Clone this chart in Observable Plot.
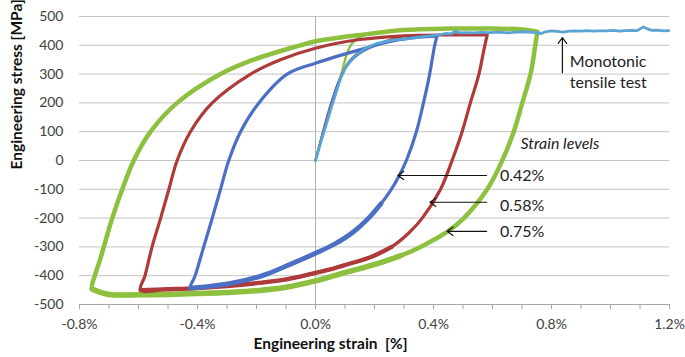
<!DOCTYPE html>
<html><head><meta charset="utf-8">
<script src="https://cdn.jsdelivr.net/npm/d3@7"></script>
<script src="https://cdn.jsdelivr.net/npm/@observablehq/plot@0.6"></script>
<style>body{margin:0;background:#fff;}</style>
</head><body><div id="chart"></div>
<script>
// Axis ticks
const xTicks = [-0.8, -0.4, 0, 0.4, 0.8, 1.2];
const xMinorTicks = [-0.8, -0.7, -0.6, -0.5, -0.4, -0.3, -0.2, -0.1, 0, 0.1, 0.2, 0.3, 0.4, 0.5, 0.6, 0.7, 0.8, 0.9, 1.0, 1.1, 1.2];
const yTicks = [-500, -400, -300, -200, -100, 0, 100, 200, 300, 400, 500];

// 0.42% loop (blue): descending branch, then ascending branch
const blueStrain = [0.412, 0.404, 0.387, 0.366, 0.342, 0.308, 0.285, 0.257, 0.222, 0.18, 0.126, 0.065, 0.0, -0.085, -0.175, -0.288, -0.39, -0.424,
  -0.408, -0.379, -0.350, -0.322, -0.294, -0.254, -0.192, -0.096, 0.0, 0.152, 0.266, 0.35, 0.412];
const blueStress = [432, 400, 300, 200, 100, 0, -50, -100, -150, -200, -250, -290, -322, -360, -398, -427, -440, -443,
  -400, -300, -200, -100, 0, 100, 200, 300, 338, 385, 416, 428, 432];
const blueInitStrain = [0, 0.05, 0.085, 0.13, 0.2, 0.266];
const blueInitStress = [0, 185, 290, 355, 398, 416];

// 0.58% loop (red)
const redStrain = [0.582, 0.57, 0.554, 0.525, 0.497, 0.463, 0.424, 0.362, 0.318, 0.258, 0.2, 0.145, 0.096, 0.05, 0.0, -0.1, -0.2, -0.3, -0.4, -0.5, -0.593,
  -0.578, -0.554, -0.525, -0.497, -0.469, -0.424, -0.350, -0.220, -0.119, 0.0, 0.15, 0.3, 0.45, 0.582];
const redStress = [436, 380, 300, 200, 100, 0, -100, -200, -250, -300, -330, -350, -364, -378, -390, -413, -426, -436, -443, -447, -450,
  -400, -300, -200, -100, 0, 100, 200, 300, 350, 390, 420, 433, 436, 436];
const redInitStrain = [0, 0.05, 0.085, 0.12, 0.16, 0.21, 0.26, 0.3];
const redInitStress = [0, 190, 290, 352, 385, 405, 422, 433];

// 0.75% loop (green)
const greenStrain = [0.752, 0.745, 0.729, 0.701, 0.672, 0.633, 0.582, 0.503, 0.446, 0.356, 0.29, 0.22, 0.14, 0.07, 0.0, -0.1, -0.2, -0.3, -0.4, -0.5, -0.6, -0.7, -0.757,
  -0.748, -0.732, -0.712, -0.689, -0.655, -0.616, -0.559, -0.469, -0.322, -0.21, -0.051, 0.0, 0.152, 0.3, 0.45, 0.6, 0.7, 0.752];
const greenStress = [447, 400, 300, 200, 100, 0, -100, -200, -248, -300, -330, -355, -378, -398, -418, -440, -452, -458, -462, -465, -466, -465, -446,
  -400, -350, -280, -200, -100, 0, 100, 200, 300, 350, 400, 414, 436, 453, 458, 458, 455, 447];
const greenInitStrain = [0, 0.05, 0.085, 0.107, 0.124, 0.152, 0.21];
const greenInitStress = [0, 185, 290, 372, 407, 430, 445];

// Monotonic tensile test (light blue)
const monoStrain = [0, 0.02, 0.051, 0.085, 0.105, 0.13, 0.17, 0.209, 0.26, 0.322, 0.38, 0.42, 0.44, 0.46, 0.475, 0.49, 0.51, 0.536, 0.56, 0.59, 0.62, 0.65, 0.68, 0.71, 0.74, 0.765, 0.78, 0.80, 0.82, 0.84, 0.86, 0.875, 0.90, 0.92, 0.94, 0.96, 0.989, 1.01, 1.03, 1.05, 1.07, 1.09, 1.112, 1.125, 1.14, 1.16, 1.18, 1.197];
const monoStress = [0, 70, 175, 285, 330, 360, 390, 407, 418, 424, 432, 436, 441, 440, 449, 443, 444, 443, 445, 444, 446, 443, 446, 447, 445, 441, 447, 450, 448, 446, 449, 450, 449, 451, 449, 450, 450, 452, 449, 451, 452, 451, 464, 457, 452, 453, 450, 451];

// Annotations
const noteTexts = ["Monotonic", "tensile test", "Strain levels", "0.42%", "0.58%", "0.75%"];
const noteStrain = [0.862, 0.862, 0.695, 0.625, 0.625, 0.625];
const noteStress = [344, 271, 58, -54, -157, -249];
const noteItalic = [false, false, true, false, false, false];
const arrowFromStrain = [0.837, 0.58, 0.58, 0.58];
const arrowFromStress = [305, -52, -145, -246];
const arrowToStrain = [0.837, 0.279, 0.388, 0.446];
const arrowToStress = [427, -52, -145, -246];

const toRows = (xs, ys) => xs.map((x, i) => ({strain: x, stress: ys[i]}));
const notes = noteTexts.map((t, i) => ({text: t, strain: noteStrain[i], stress: noteStress[i], italic: noteItalic[i]}));
const arrows = arrowFromStrain.map((x, i) => ({x1: x, y1: arrowFromStress[i], x2: arrowToStrain[i], y2: arrowToStress[i]}));

const blueRows = toRows(blueStrain, blueStress);
const redRows = toRows(redStrain, redStress);
const greenRows = toRows(greenStrain, greenStress);
// lower (compressive) branches are drawn heavier: several cycles overlap there
const blueLower = blueRows.slice(8, 18);
const redLower = redRows.slice(9, 21);
const greenLower = greenRows.slice(10, 23);

const BLUE = "#4A6FC4", RED = "#AE3A3A", GREEN = "#8DC03F", LIGHT = "#5AA3D3";
const L = (rows, stroke, w) => Plot.line(rows, {x: "strain", y: "stress", stroke, strokeWidth: w, curve: "catmull-rom", strokeLinejoin: "round", strokeLinecap: "round"});

const chart = Plot.plot({
  width: 685,
  height: 357,
  marginLeft: 79,
  marginRight: 16,
  marginTop: 16,
  marginBottom: 53,
  style: {fontFamily: "Lato, sans-serif", fontSize: "14px", background: "#fff"},
  x: {domain: [-0.8, 1.2]},
  y: {domain: [-500, 500]},
  marks: [
    Plot.ruleY(yTicks.filter(d => d > -500), {stroke: "#c4c4c4", strokeWidth: 1}),
    Plot.ruleX([0], {stroke: "#b0b0b0", strokeWidth: 1}),
    Plot.ruleY([-500], {stroke: "#a6a6a6", strokeWidth: 1}),
    Plot.axisX(xMinorTicks, {tickSize: 5, tickFormat: () => "", stroke: "#a6a6a6", label: null}),
    Plot.axisX(xTicks, {tickSize: 0, tickPadding: 15, tickFormat: d => d.toFixed(1) + "%", label: null, fill: "#404040", fontSize: 14}),
    Plot.axisY(yTicks, {tickSize: 0, tickPadding: 16, tickFormat: d => String(d), label: null, fill: "#404040", fontSize: 14}),
    Plot.text(["Engineering stress [MPa]"], {frameAnchor: "left", rotate: -90, dx: -62, dy: 9, fontWeight: "bold", fontSize: 15.5, fill: "#111"}),
    Plot.text(["Engineering strain  [%]"], {frameAnchor: "bottom", dx: -44, dy: 44, fontWeight: "bold", fontSize: 15.5, fill: "#111"}),
    L(toRows(greenInitStrain, greenInitStress), GREEN, 2.5),
    L(greenRows, GREEN, 4.5),
    L(greenLower, GREEN, 5.5),
    L(toRows(redInitStrain, redInitStress), RED, 2),
    L(redRows, RED, 3.2),
    L(redLower, RED, 4.3),
    L(toRows(blueInitStrain, blueInitStress), BLUE, 2),
    L(blueRows, BLUE, 3.2),
    L(blueLower, BLUE, 4.8),
    Plot.line(toRows(monoStrain, monoStress), {x: "strain", y: "stress", stroke: LIGHT, strokeWidth: 2.8, strokeLinejoin: "round"}),
    Plot.arrow(arrows, {x1: "x1", y1: "y1", x2: "x2", y2: "y2", stroke: "#111", strokeWidth: 1.2, headLength: 9, headAngle: 70}),
    Plot.text(notes.filter(d => !d.italic), {x: "strain", y: "stress", text: "text", textAnchor: "start", fontSize: 16, fill: "#222"}),
    Plot.text(notes.filter(d => d.italic), {x: "strain", y: "stress", text: "text", textAnchor: "start", fontSize: 16, fontStyle: "italic", fill: "#222"})
  ]
});
document.getElementById("chart").appendChild(chart);
</script>
</body></html>
